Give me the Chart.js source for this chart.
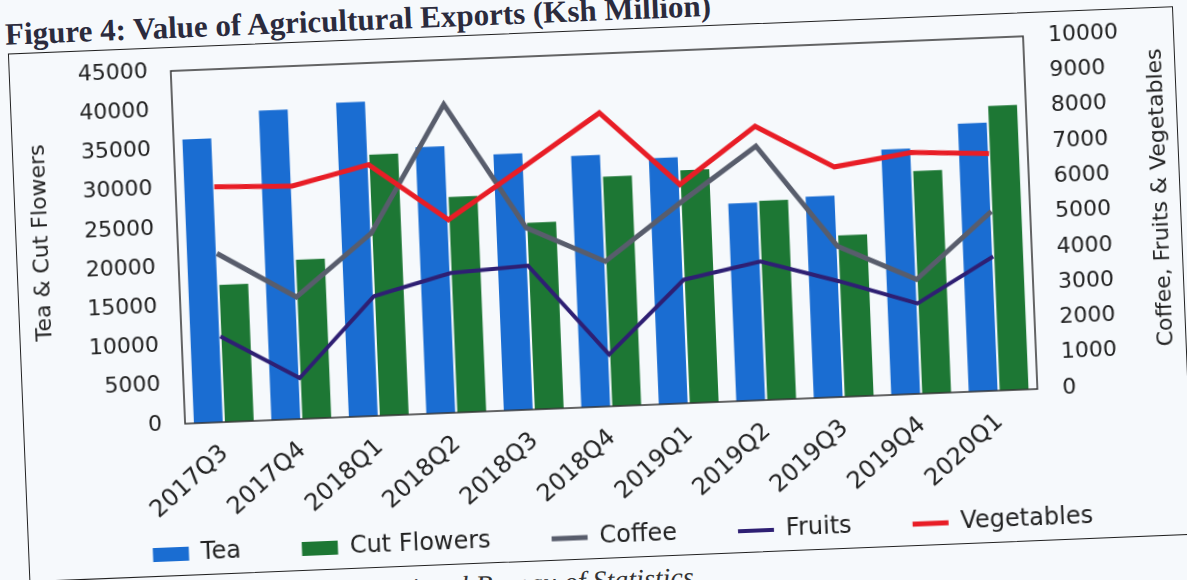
<!DOCTYPE html>
<html>
<head>
<meta charset="utf-8">
<script src="https://cdn.jsdelivr.net/npm/chart.js@4.4.1/dist/chart.umd.min.js"></script>
<style>
  html, body { margin: 0; padding: 0; background: #f6f9fc; overflow: hidden; }
  #page {
    position: absolute; left: 0; top: 0; width: 1187px; height: 580px;
    transform: rotate(-2.33deg); transform-origin: 593px 290px;
  }
  #title {
    position: absolute; left: 16px; top: -4px; white-space: nowrap;
    font: bold 31px "Liberation Serif", "Times New Roman", serif; line-height: 30px; color: #2b2b3d;
  }
  #box {
    position: absolute; left: 18px; top: 30px; width: 1166px; height: 529px;
    border: 1.5px solid #222; box-sizing: border-box;
  }
  #wrap { position: absolute; left: 18px; top: 30px; width: 1166px; height: 529px; }
  #source {
    position: absolute; right: 505px; top: 567px; white-space: nowrap;
    font: italic 28px "Liberation Serif", "Times New Roman", serif; line-height: 28px; color: #333;
  }
</style>
</head>
<body>
<div id="page">
  <div id="title">Figure 4: Value of Agricultural Exports (Ksh Million)</div>
  <div id="box"></div>
  <div id="wrap"><canvas id="chart"></canvas></div>
  <div id="source">Source: Kenya National Bureau of Statistics</div>
</div>
<script>
const quarters = ['2017Q3', '2017Q4', '2018Q1', '2018Q2', '2018Q3', '2018Q4', '2019Q1', '2019Q2', '2019Q3', '2019Q4', '2020Q1'];

// left axis (Ksh million)
const tea = [36200, 39500, 40100, 34000, 32700, 32100, 31400, 25200, 25700, 31300, 34200];
const cutFlowers = [17500, 20300, 33300, 27500, 23800, 29300, 29700, 25400, 20600, 28400, 36300];

// right axis (Ksh million)
const coffee = [4780, 3460, 5180, 8740, 5150, 4110, 5690, 7200, 4270, 3240, 5080];
const fruits = [2430, 1160, 3390, 3960, 4080, 1470, 3500, 3930, 3280, 2560, 3800];
const vegetables = [6670, 6600, 7120, 5470, 6880, 8320, 6200, 7760, 6520, 6840, 6720];

const leftTitle = 'Tea & Cut Flowers';
const rightTitle = 'Coffee, Fruits & Vegetables';

const font = 'DejaVu Sans';
const ink = '#222';

// box round the plot area + the two axis titles (both read bottom to top)
const frame = {
    id: 'frame',
    afterLayout(chart) {
        // rotated x labels hang down into the legend band, don't clip them
        chart.scales.x.bottom = chart.height;
    },
    afterDraw(chart) {
        const { ctx, chartArea: a, scales } = chart;
        ctx.save();
        ctx.strokeStyle = '#333';
        ctx.lineWidth = 1.5;
        ctx.strokeRect(a.left, a.top, a.right - a.left, a.bottom - a.top);

        ctx.font = `22px "${font}"`;
        ctx.fillStyle = ink;
        ctx.textAlign = 'center';
        ctx.textBaseline = 'middle';
        const midY = (a.top + a.bottom) / 2 - 10;
        [[26, leftTitle], [scales.y1.right - 20, rightTitle]].forEach(([x, text]) => {
            ctx.save();
            ctx.translate(x, midY);
            ctx.rotate(-Math.PI / 2);
            ctx.fillText(text, 0, 0);
            ctx.restore();
        });
        ctx.restore();
    }
};

const noPad = s => { s.paddingTop = 0; s.paddingBottom = 0; s.paddingLeft = 0; s.paddingRight = 0; };

new Chart(document.getElementById('chart'), {
    data: {
        labels: quarters,
        datasets: [
            {
                type: 'bar', label: 'Tea', data: tea, yAxisID: 'y', order: 4,
                backgroundColor: '#1a6dd2', pointStyle: 'rect',
                categoryPercentage: 0.8, barPercentage: 0.93
            },
            {
                type: 'bar', label: 'Cut Flowers', data: cutFlowers, yAxisID: 'y', order: 5,
                backgroundColor: '#1d7734', pointStyle: 'rect',
                categoryPercentage: 0.8, barPercentage: 0.93
            },
            {
                type: 'line', label: 'Coffee', data: coffee, yAxisID: 'y1', order: 3,
                borderColor: '#585d6c', backgroundColor: '#585d6c', borderWidth: 5,
                pointRadius: 0, pointStyle: 'line', tension: 0
            },
            {
                type: 'line', label: 'Fruits', data: fruits, yAxisID: 'y1', order: 2,
                borderColor: '#2e1f73', backgroundColor: '#2e1f73', borderWidth: 4,
                pointRadius: 0, pointStyle: 'line', tension: 0
            },
            {
                type: 'line', label: 'Vegetables', data: vegetables, yAxisID: 'y1', order: 1,
                borderColor: '#e81d26', backgroundColor: '#e81d26', borderWidth: 5,
                pointRadius: 0, pointStyle: 'line', tension: 0
            }
        ]
    },
    options: {
        responsive: true,
        maintainAspectRatio: false,
        animation: false,
        devicePixelRatio: 1,
        layout: { padding: { left: 24, top: 24, right: 0, bottom: 0 } },
        plugins: {
            tooltip: { enabled: false },
            legend: {
                position: 'bottom',
                labels: {
                    usePointStyle: true,
                    pointStyleWidth: 36,
                    boxHeight: 14,
                    padding: 61,
                    color: ink,
                    font: { family: font, size: 24 },
                    sort: (a, b) => a.datasetIndex - b.datasetIndex
                }
            }
        },
        scales: {
            x: {
                grid: { display: false, drawTicks: false },
                border: { display: false },
                ticks: {
                    color: ink, font: { family: font, size: 24 },
                    minRotation: 40, maxRotation: 40, autoSkip: false, padding: 17
                },
                afterFit: s => { s.height = 57; noPad(s); }
            },
            y: {
                position: 'left', min: 0, max: 45000,
                grid: { display: false, drawTicks: false },
                border: { display: false },
                ticks: {
                    stepSize: 5000, color: ink, font: { family: font, size: 22 }, padding: 23,
                    format: { useGrouping: false }
                },
                afterFit: s => { s.width = 138; noPad(s); }
            },
            y1: {
                position: 'right', min: 0, max: 10000,
                grid: { display: false, drawTicks: false },
                border: { display: false },
                ticks: {
                    stepSize: 1000, color: ink, font: { family: font, size: 22 }, padding: 25,
                    format: { useGrouping: false }
                },
                afterFit: s => { s.width = 151; noPad(s); }
            }
        }
    },
    plugins: [frame]
});
</script>
</body>
</html>
